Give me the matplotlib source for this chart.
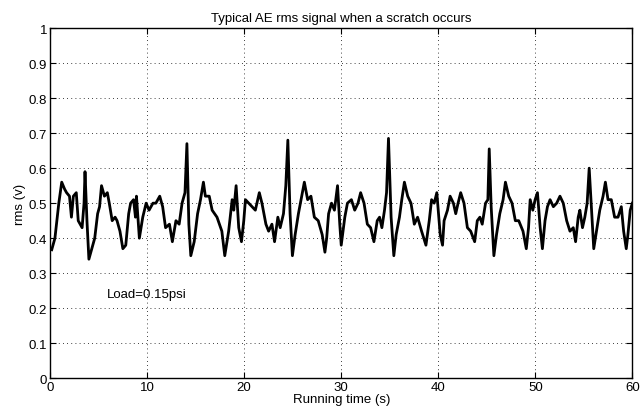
import numpy as np
import matplotlib
matplotlib.use("Agg")
import matplotlib.pyplot as plt

plt.rcParams["font.family"] = ["Liberation Sans", "DejaVu Sans"]

# AE rms signal (time in s, rms in V)
t = [0.17, 0.5, 0.9, 1.2, 1.5, 1.7, 2.0, 2.2, 2.4, 2.7, 2.9, 3.1, 3.3, 3.5, 3.6, 3.8,
     4.0, 4.2, 4.4, 4.6, 4.9, 5.1, 5.3, 5.6, 5.9, 6.1, 6.4, 6.7, 6.9, 7.2, 7.5, 7.8,
     8.1, 8.3, 8.6, 8.8, 8.9, 9.2, 9.55, 9.9, 10.2, 10.6, 10.9, 11.3, 11.6, 11.9, 12.3,
     12.6, 12.97, 13.3, 13.6, 13.9, 14.1, 14.3, 14.5, 14.85, 15.2, 15.5, 15.8, 16.0,
     16.4, 16.7, 17.2, 17.7, 18.0, 18.4, 18.76, 18.93, 19.17, 19.44, 19.72, 19.96,
     20.13, 20.47, 20.81, 21.15, 21.56, 21.83, 22.24, 22.52, 22.86, 23.13, 23.47,
     23.71, 24.05, 24.29, 24.5, 24.73, 24.97, 25.25, 25.59, 25.86, 26.2, 26.54, 26.88,
     27.23, 27.63, 28.04, 28.32, 28.5, 28.7, 29.0, 29.3, 29.62, 29.85, 30.0, 30.37,
     30.64, 31.05, 31.39, 31.73, 32.0, 32.35, 32.69, 33.03, 33.37, 33.71, 33.95,
     34.19, 34.46, 34.67, 34.87, 35.14, 35.42, 35.66, 36.0, 36.24, 36.51, 36.85,
     37.19, 37.53, 37.87, 38.28, 38.73, 39.07, 39.31, 39.58, 39.85, 40.2, 40.44,
     40.6, 40.95, 41.22, 41.56, 41.8, 42.04, 42.31, 42.65, 43.0, 43.34, 43.75, 44.02,
     44.29, 44.53, 44.87, 45.11, 45.25, 45.45, 45.73, 46.0, 46.34, 46.68, 46.92,
     47.26, 47.6, 47.94, 48.29, 48.73, 49.07, 49.3, 49.47, 49.74, 49.98, 50.22, 50.5,
     50.73, 51.0, 51.25, 51.52, 51.86, 52.2, 52.54, 52.88, 53.23, 53.57, 53.91, 54.15,
     54.42, 54.59, 54.86, 55.1, 55.34, 55.55, 55.79, 56.02, 56.3, 56.64, 56.98, 57.22,
     57.49, 57.83, 58.17, 58.52, 58.86, 59.1, 59.37, 59.54, 59.78, 60.0]
rms = [0.367, 0.40, 0.50, 0.56, 0.54, 0.53, 0.52, 0.46, 0.52, 0.53, 0.45, 0.44, 0.43, 0.50, 0.59, 0.45,
       0.34, 0.36, 0.38, 0.40, 0.47, 0.49, 0.55, 0.52, 0.53, 0.50, 0.45, 0.46, 0.45, 0.42, 0.37, 0.38,
       0.47, 0.50, 0.51, 0.46, 0.52, 0.40, 0.46, 0.50, 0.48, 0.50, 0.50, 0.52, 0.49, 0.43, 0.44,
       0.39, 0.45, 0.44, 0.50, 0.53, 0.67, 0.44, 0.35, 0.39, 0.47, 0.51, 0.56, 0.52,
       0.52, 0.48, 0.46, 0.42, 0.35, 0.42, 0.51, 0.48, 0.55, 0.43, 0.39, 0.45,
       0.51, 0.50, 0.49, 0.48, 0.53, 0.50, 0.44, 0.42, 0.44, 0.39, 0.46,
       0.43, 0.47, 0.55, 0.68, 0.47, 0.35, 0.41, 0.47, 0.51, 0.56, 0.51, 0.52,
       0.46, 0.45, 0.41, 0.36, 0.40, 0.47, 0.50, 0.48, 0.55, 0.44, 0.38, 0.46,
       0.50, 0.51, 0.48, 0.50, 0.53, 0.50, 0.44, 0.43, 0.39, 0.45, 0.46,
       0.43, 0.48, 0.53, 0.685, 0.46, 0.35, 0.41, 0.46, 0.51, 0.56, 0.52,
       0.50, 0.44, 0.46, 0.42, 0.38, 0.45, 0.51, 0.50, 0.53, 0.41, 0.38,
       0.45, 0.48, 0.52, 0.50, 0.47, 0.50, 0.53, 0.50, 0.43, 0.42, 0.39, 0.45,
       0.46, 0.44, 0.50, 0.51, 0.655, 0.49, 0.35, 0.41, 0.47, 0.51, 0.56,
       0.52, 0.50, 0.45, 0.45, 0.42, 0.37, 0.43, 0.51, 0.48, 0.51, 0.53, 0.43,
       0.37, 0.45, 0.49, 0.51, 0.49, 0.50, 0.52, 0.50, 0.45, 0.42, 0.43, 0.39,
       0.46, 0.48, 0.43, 0.46, 0.50, 0.60, 0.48, 0.37, 0.42, 0.48, 0.52, 0.56,
       0.51, 0.51, 0.46, 0.46, 0.49, 0.42, 0.37, 0.41, 0.48, 0.50]

xticks = [0, 10, 20, 30, 40, 50, 60]
yticks = [0, 0.1, 0.2, 0.3, 0.4, 0.5, 0.6, 0.7, 0.8, 0.9, 1]
yticklabels = ["0", "0.1", "0.2", "0.3", "0.4", "0.5", "0.6", "0.7", "0.8", "0.9", "1"]

fig = plt.figure(figsize=(6.42, 4.10), dpi=100)
ax = fig.add_axes([0.078, 0.075, 0.907, 0.854])

ax.plot(t, rms, color="black", lw=2.0)

ax.set_xlim(0, 60); ax.set_ylim(0, 1)
ax.set_xticks(xticks); ax.set_yticks(yticks); ax.set_yticklabels(yticklabels)
ax.grid(True, color="black", ls=(0, (1, 4)), lw=0.6)
ax.tick_params(direction="in", top=True, right=True, length=4, labelsize=9.5, pad=2)
for s in ax.spines.values(): s.set_linewidth(1.0)

ax.set_title("Typical AE rms signal when a scratch occurs", fontsize=9.5, pad=5)
ax.set_xlabel("Running time (s)", fontsize=9.5, labelpad=0)
ax.set_ylabel("rms (v)", fontsize=9.5, labelpad=2)
ax.text(5.9, 0.24, "Load=0.15psi", fontsize=9.5, va="center")

fig.savefig("out.png", dpi=100)
